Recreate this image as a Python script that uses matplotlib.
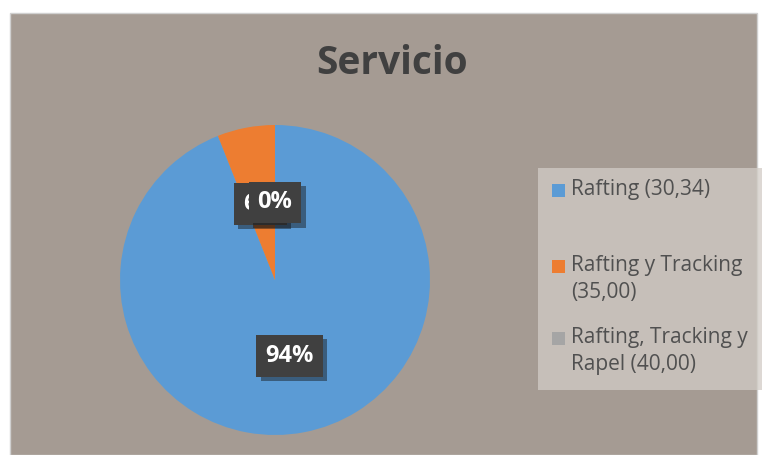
import matplotlib
matplotlib.use("Agg")
import matplotlib.pyplot as plt
from matplotlib.patches import Rectangle
import matplotlib.patheffects as pe

plt.rcParams['font.family'] = ['Open Sans', 'DejaVu Sans']

title = "Servicio"
categories = ["Rafting (30,34)", "Rafting y Tracking\n(35,00)", "Rafting, Tracking y\nRapel (40,00)"]
values = [94, 6, 0]
colors = ["#5B9BD5", "#ED7D31", "#A5A5A5"]

W, H = 765, 455
fig = plt.figure(figsize=(W / 100, H / 100), dpi=100)
fig.patch.set_facecolor("white")

# chart area background
bg = Rectangle((10 / W, 0), 747 / W, (H - 13) / H, transform=fig.transFigure,
               facecolor="#a59b93", edgecolor="#d0d0d0", lw=1, zorder=0)
fig.patches.append(bg)

# pie
ax = fig.add_axes([120 / W, (H - 435) / H, 310 / W, 310 / H])
ax.set_zorder(2)
wedges, texts, autotexts = ax.pie(values, colors=colors, startangle=90, counterclock=False,
                                  autopct='%1.0f%%', pctdistance=0.5,
                                  wedgeprops=dict(linewidth=0),
                                  textprops=dict(color="white", fontsize=17, fontweight="bold"))
for t in autotexts:
    t.set_bbox(dict(boxstyle="square,pad=0.38", facecolor="#404040", edgecolor="none"))
    t.get_bbox_patch().set_path_effects([pe.SimplePatchShadow(offset=(3, -3), alpha=0.45), pe.Normal()])
ax.set_xlim(-1, 1)
ax.set_ylim(-1, 1)
ax.set_aspect("equal")
ax.axis("off")

# title
fig.text(392 / W, 1 - 63 / H, title, ha="center", va="center", fontsize=28,
         fontweight="bold", color="#404040")

# legend
leg = Rectangle((538 / W, 1 - 390 / H), 224 / W, 222 / H, transform=fig.transFigure,
                facecolor="#d2ccc6", alpha=0.75, edgecolor="none", zorder=1)
fig.patches.append(leg)
first_line_y = [190, 266, 338]
for cat, col, y in zip(categories, colors, first_line_y):
    fig.patches.append(Rectangle((552 / W, 1 - (y + 7) / H), 13 / W, 13 / H,
                                 transform=fig.transFigure, facecolor=col, edgecolor="none", zorder=3))
    fig.text(571 / W, 1 - (y - 11) / H, cat, ha="left", va="top", fontsize=15,
             color="#505050", linespacing=1.35, zorder=3)

fig.savefig("out.png", dpi=100)
